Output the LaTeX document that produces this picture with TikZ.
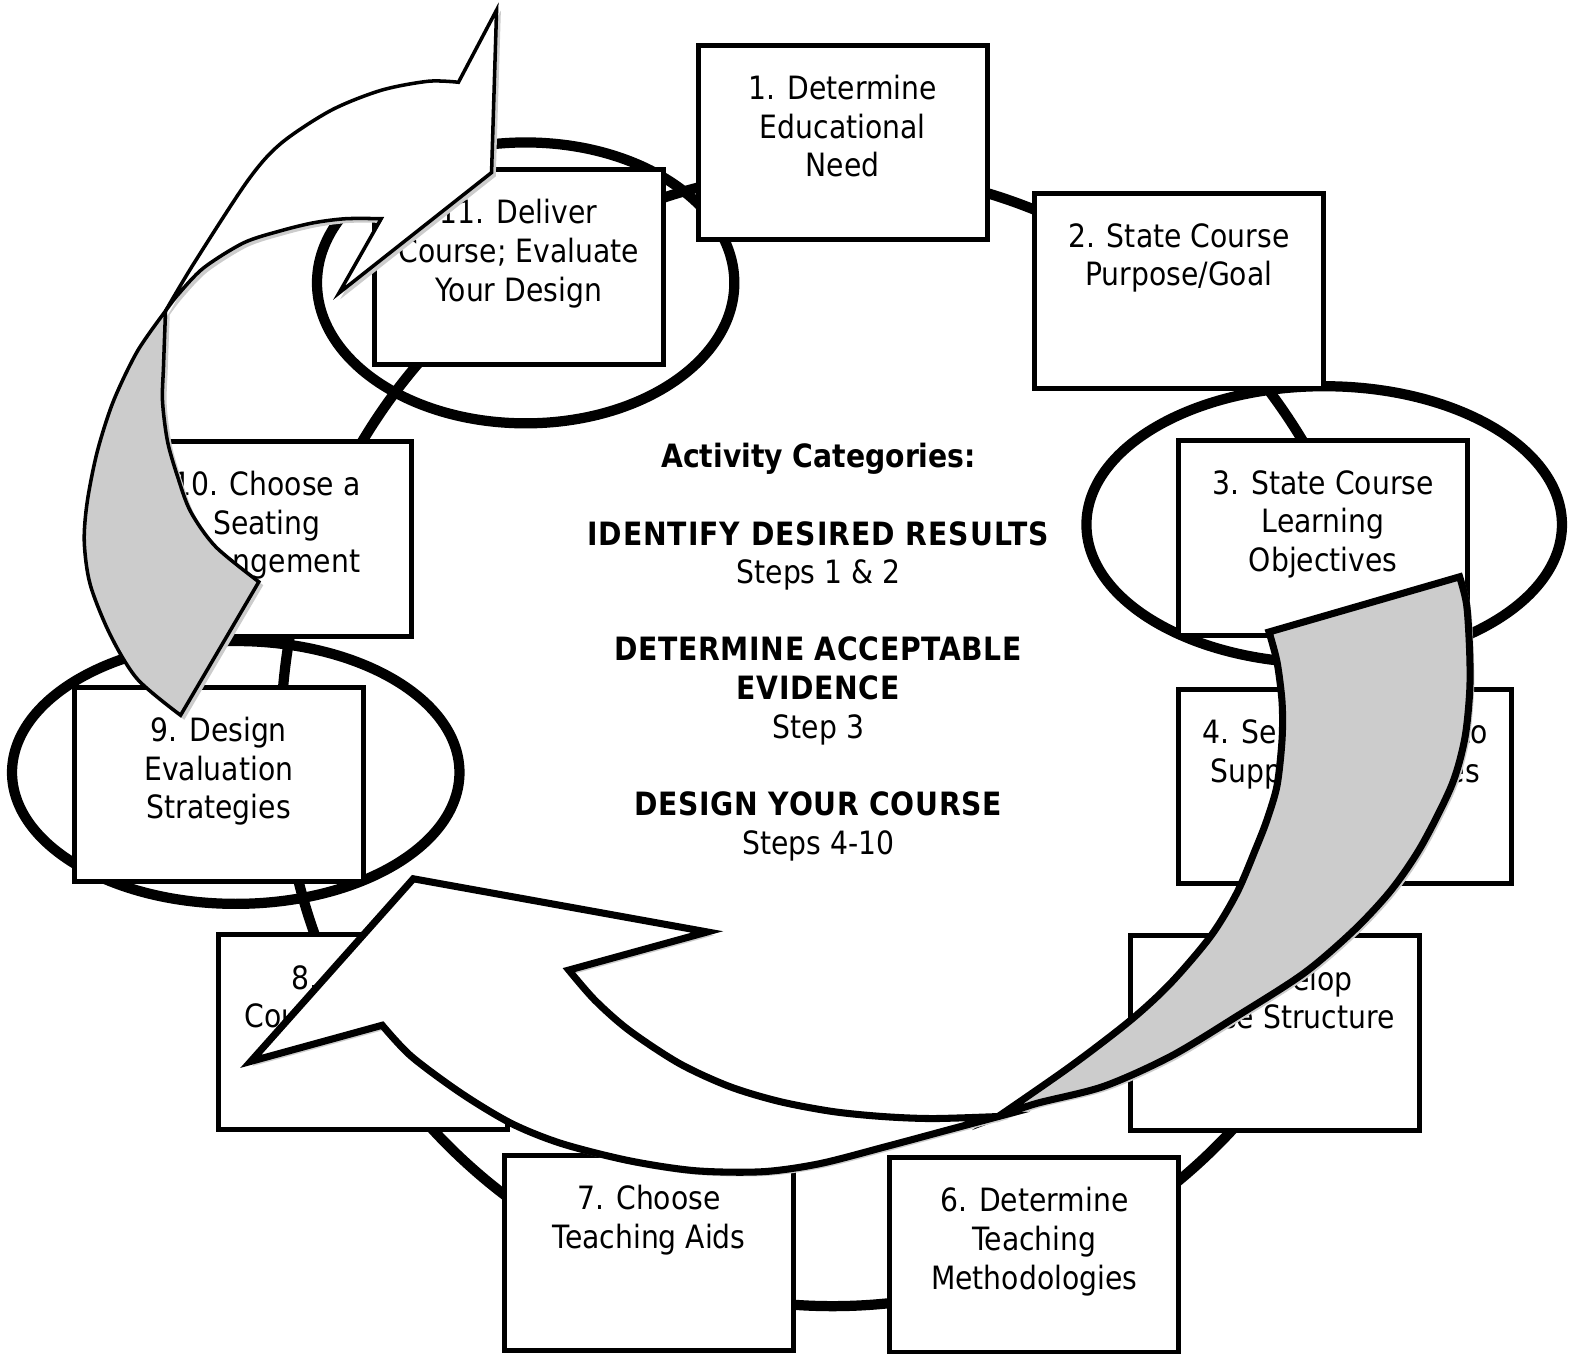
\documentclass[tikz,border=0pt]{standalone}
\usepackage{fontspec}
\setmainfont{DejaVu Sans}[FakeStretch=0.88]
\usetikzlibrary{positioning}

\begin{document}
\begin{tikzpicture}[x=0.01cm, y=-0.01cm,
  stepbox/.style={draw, line width=1.45pt, fill=white, minimum width=2.88cm, minimum height=1.94cm, inner sep=0pt},
  steptext/.style={anchor=north, yshift=-9pt, inner sep=0pt, align=center, font=\fontsize{9.1}{10.95}\selectfont},
  ring/.style={line width=2.9pt},
  shadowed/.style={preaction={fill=black!20, draw=black!20, transform canvas={xshift=0.035cm, yshift=-0.035cm}}},
  backface/.style={shadowed, fill=black!20, draw=black},
  frontface/.style={shadowed, fill=white, draw=black}]

\useasboundingbox (0,0) rectangle (1568,1349);

% the cycle and the three marked steps
\draw[ring] (830,736) ellipse [x radius=550, y radius=566];
\draw[ring] (524,282) ellipse [x radius=208, y radius=140];
\draw[ring] (1320,523) ellipse [x radius=237, y radius=138];
\draw[ring] (235,770) ellipse [x radius=223, y radius=131];

\node[stepbox] (s1) at (840,142) {};
\node[steptext] (t1) at (s1.north) {1. Determine\\Educational\\Need};
\node[stepbox] (s2) at (1175,290) {};
\node[steptext] (t2) at (s2.north) {2. State Course\\Purpose/Goal};
\node[stepbox] (s3) at (1319,536) {};
\node[steptext] (t3) at (s3.north) {3. State Course\\Learning\\Objectives};
\node[stepbox, minimum width=3.32cm] (s4) at (1341,784) {};
\node[steptext] (t4) at (s4.north) {4. Select Content to\\Support Objectives};
\node[stepbox] (s5) at (1271,1030) {};
\node[steptext] (t5) at (s5.north) {5. Develop\\Course Structure};
\node[stepbox] (s6) at (1031,1251) {};
\node[steptext] (t6) at (s6.north) {6. Determine\\Teaching\\Methodologies};
\node[stepbox] (s7) at (647,1249) {};
\node[steptext] (t7) at (s7.north) {7. Choose\\Teaching Aids};
\node[stepbox] (s8) at (362,1029) {};
\node[steptext] (t8) at (s8.north) {8. Choose\\Course Materials};
\node[stepbox] (s9) at (218,782) {};
\node[steptext] (t9) at (s9.north) {9. Design\\Evaluation\\Strategies};
\node[stepbox] (s10) at (266,537) {};
\node[steptext] (t10) at (s10.north) {10. Choose a\\Seating\\Arrangement};
\node[stepbox] (s11) at (517,266) {};
\node[steptext] (t11) at (s11.north) {11. Deliver\\Course; Evaluate\\Your Design};

\node[align=center, font=\fontsize{9.1}{10.95}\selectfont] (cats) at (816,650)
  {\textbf{Activity Categories:}\\[10.95pt]
   {\addfontfeature{LetterSpace=3}\textbf{IDENTIFY DESIRED RESULTS}}\\ Steps 1 \& 2\\[10.95pt]
   {\addfontfeature{LetterSpace=2}\textbf{DETERMINE ACCEPTABLE}}\\ {\addfontfeature{LetterSpace=2}\textbf{EVIDENCE}}\\ Step 3\\[10.95pt]
   {\addfontfeature{LetterSpace=2}\textbf{DESIGN YOUR COURSE}}\\ Steps 4-10};

% lower curved arrow
\draw[backface, line width=2pt] plot[smooth] coordinates {(995,1113) (1033,1100) (1100,1083) (1167,1053) (1233,1013) (1300,970) (1350,927) (1387,887) (1417,843) (1447,783) (1460,737) (1465,690) (1465,650) (1462,603) (1455,575)}
  -- plot[smooth] coordinates {(1265,630) (1273,660) (1278,700) (1278,737) (1273,783) (1263,817) (1253,843) (1233,890) (1207,933) (1167,980) (1127,1017) (1067,1063) (995,1113)} -- cycle;
\draw[frontface, line width=2pt] plot[smooth] coordinates {(995,1113) (950,1125) (883,1143) (817,1160) (760,1168) (693,1167) (627,1157) (560,1140) (510,1120) (460,1090) (410,1053) (381,1022)}
  -- (250,1058) -- (412,876) -- (705,929)
  -- plot[smooth] coordinates {(567,967) (593,997) (627,1027) (677,1060) (727,1083) (777,1098) (830,1108) (880,1113) (930,1115) (995,1113)} -- cycle;

% upper curved arrow
\draw[backface, line width=1pt] plot[smooth] coordinates {(165,310) (137,350) (113,400) (97,450) (87,500) (84,540) (90,583) (110,633) (137,677) (180,713)}
  -- plot[smooth] coordinates {(258,580) (215,545) (190,510) (177,475) (167,440) (162,400) (163,365) (165,310)} -- cycle;
\draw[frontface, line width=1pt] plot[smooth] coordinates {(165,310) (193,263) (247,180) (280,143) (330,110) (380,90) (427,81) (457,82)}
  -- (495,10) -- (490,172) -- (338,292)
  -- plot[smooth] coordinates {(380,218) (345,218) (313,222) (280,230) (243,242) (203,267) (178,293) (165,310)} -- cycle;

\end{tikzpicture}
\end{document}
